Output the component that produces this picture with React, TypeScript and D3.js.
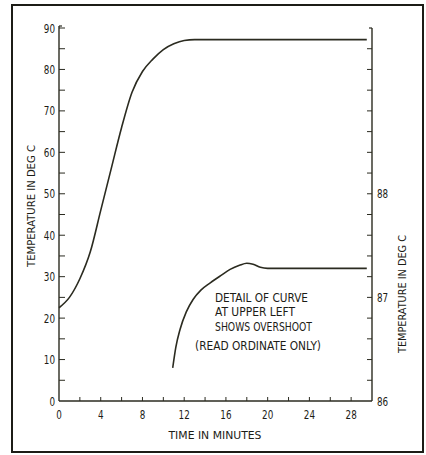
import React from "react";
import * as d3 from "d3";

const mainMinutes = [0, 1, 2, 3, 4, 5, 6, 7, 8, 9, 10, 11, 12, 13, 29.5];
const mainTemps = [22.5, 25, 29.5, 36, 46, 56, 66, 74.5, 79.5, 82.5, 84.8, 86.2, 87, 87.2, 87.2];

const detailMinutes = [10.9, 11.2, 11.6, 12.2, 12.85, 13.6, 14.5, 15.5, 16.4, 17.3, 18.0, 18.6, 19.3, 20, 29.5];
const detailTemps = [86.32, 86.52, 86.69, 86.86, 86.98, 87.07, 87.14, 87.21, 87.27, 87.31, 87.33, 87.32, 87.29, 87.28, 87.28];

const xTickLabels = [0, 4, 8, 12, 16, 20, 24, 28];
const xMinorTicks = [2, 4, 6, 8, 10, 12, 14, 16, 18, 20, 22, 24, 26, 28];
const leftTickLabels = [0, 10, 20, 30, 40, 50, 60, 70, 80, 90];
const leftMinorTicks = [5, 10, 15, 20, 25, 30, 35, 40, 45, 50, 55, 60, 65, 70, 75, 80, 85, 90];
const rightTickLabels = [86, 87, 88];
const rightMinorTicks = [86.2, 86.4, 86.6, 86.8, 87, 87.2, 87.4, 87.6, 87.8, 88, 88.2, 88.4, 88.6, 88.8, 89, 89.2, 89.4];

const notes = [
  { text: "DETAIL OF CURVE", len: 93 },
  { text: "AT UPPER LEFT", len: 80 },
  { text: "SHOWS OVERSHOOT", len: 97 },
  { text: "(READ ORDINATE ONLY)", len: 126 },
];

const FONT = "'Liberation Sans Narrow', 'DejaVu Sans Condensed', 'Liberation Sans', sans-serif";
const INK = "#1c1c16";
const LINE = "#2b2b20";

export default function App() {
  const x = d3.scaleLinear().domain([0, 30]).range([59, 372]);
  const yL = d3.scaleLinear().domain([0, 90]).range([401, 28]);
  const yR = d3.scaleLinear().domain([86, 89.6]).range([401, 28]);

  const mainData = mainMinutes.map((m, i) => [m, mainTemps[i]] as [number, number]);
  const detailData = detailMinutes.map((m, i) => [m, detailTemps[i]] as [number, number]);

  const mainLine = d3
    .line<[number, number]>()
    .x((d) => x(d[0]))
    .y((d) => yL(d[1]))
    .curve(d3.curveMonotoneX);
  const detailLine = d3
    .line<[number, number]>()
    .x((d) => x(d[0]))
    .y((d) => yR(d[1]))
    .curve(d3.curveMonotoneX);

  const x0 = x(0);
  const x1 = x(30);
  const yb = yL(0);

  return (
    <svg
      width={426}
      height={455}
      style={{ position: "absolute", left: 0, top: 0, background: "#fff" }}
      fontFamily={FONT}
    >
      <rect x={0} y={0} width={426} height={455} fill="#fff" />
      {/* frame */}
      <rect x={12} y={5} width={411} height={447} fill="none" stroke={INK} strokeWidth={2} />

      {/* left axis */}
      <line x1={x0} y1={yb} x2={x0} y2={26} stroke={LINE} strokeWidth={1.4} />
      <line x1={x0} y1={26} x2={x0 + 3} y2={26} stroke={LINE} strokeWidth={1.2} />
      {leftMinorTicks.map((v) => (
        <line key={"lt" + v} x1={x0} x2={x0 + 6} y1={yL(v)} y2={yL(v)} stroke={LINE} strokeWidth={1} />
      ))}
      {leftTickLabels.map((v) => (
        <text
          key={"ll" + v}
          x={55}
          y={yL(v) + 4.5}
          textAnchor="end"
          fontSize={13}
          fill={INK}
          textLength={String(v).length * 5.6}
          lengthAdjust="spacingAndGlyphs"
        >
          {v}
        </text>
      ))}

      {/* bottom axis */}
      <line x1={x0} y1={yb} x2={x1} y2={yb} stroke={LINE} strokeWidth={1.4} />
      {xMinorTicks.map((v) => (
        <line key={"bt" + v} x1={x(v)} x2={x(v)} y1={yb} y2={yb - 4} stroke={LINE} strokeWidth={1} />
      ))}
      {xTickLabels.map((v) => (
        <text
          key={"bl" + v}
          x={x(v)}
          y={419}
          textAnchor="middle"
          fontSize={13}
          fill={INK}
          textLength={String(v).length * 5.6}
          lengthAdjust="spacingAndGlyphs"
        >
          {v}
        </text>
      ))}
      <text
        x={215}
        y={439}
        textAnchor="middle"
        fontSize={11}
        fill={INK}
        textLength={93}
        lengthAdjust="spacingAndGlyphs"
      >
        TIME IN MINUTES
      </text>

      {/* right axis */}
      <line x1={x1} y1={yb} x2={x1} y2={yR(89.6)} stroke={LINE} strokeWidth={1.4} />
      <line x1={x1} y1={yR(89.6)} x2={x1 - 3} y2={yR(89.6)} stroke={LINE} strokeWidth={1.2} />
      {rightMinorTicks.map((v) => (
        <line key={"rt" + v} x1={x1} x2={x1 - 5} y1={yR(v)} y2={yR(v)} stroke={LINE} strokeWidth={1} />
      ))}
      {rightTickLabels.map((v) => (
        <text
          key={"rl" + v}
          x={377}
          y={yR(v) + 4.5}
          textAnchor="start"
          fontSize={13}
          fill={INK}
          textLength={String(v).length * 5.6}
          lengthAdjust="spacingAndGlyphs"
        >
          {v}
        </text>
      ))}

      {/* axis titles */}
      <text
        transform={`translate(35, 206) rotate(-90)`}
        textAnchor="middle"
        fontSize={11}
        fill={INK}
        textLength={122}
        lengthAdjust="spacingAndGlyphs"
      >
        TEMPERATURE IN DEG C
      </text>
      <text
        transform={`translate(406, 294) rotate(-90)`}
        textAnchor="middle"
        fontSize={11}
        fill={INK}
        textLength={118}
        lengthAdjust="spacingAndGlyphs"
      >
        TEMPERATURE IN DEG C
      </text>

      {/* curves */}
      <path d={mainLine(mainData) || ""} fill="none" stroke={LINE} strokeWidth={1.6} />
      <path d={detailLine(detailData) || ""} fill="none" stroke={LINE} strokeWidth={1.6} />

      {/* note */}
      {notes.map((n, i) => (
        <text
          key={"n" + i}
          x={i === 3 ? 195 : 215}
          y={[301.5, 315.5, 330.5, 349.5][i]}
          fontSize={12}
          fill={INK}
          textLength={n.len}
          lengthAdjust="spacingAndGlyphs"
        >
          {n.text}
        </text>
      ))}
    </svg>
  );
}
